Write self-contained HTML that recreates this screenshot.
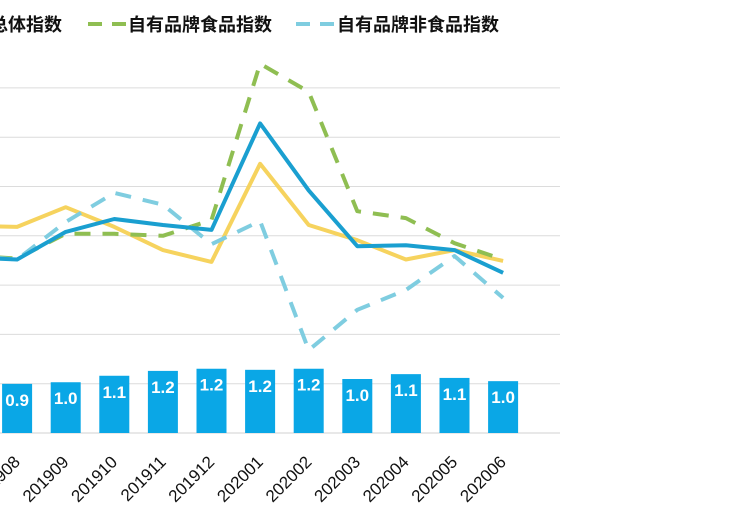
<!DOCTYPE html>
<html><head><meta charset="utf-8"><style>
html,body{margin:0;padding:0;background:#fff;width:750px;height:515px;overflow:hidden}
svg text{font-family:"Liberation Sans","Noto Sans CJK SC",sans-serif}
</style></head><body>
<svg id="chart" width="750" height="515" viewBox="0 0 750 515" xmlns="http://www.w3.org/2000/svg">
<g id="grid"></g>
<g id="bars"></g>
<g id="lines"></g>
<g id="xlabels"></g>
<g id="legend">
  <g>
    <text x="-10" y="31" font-size="18" font-weight="bold" fill="#111">总体指数</text>
  </g>
  <g>
    <line x1="88" y1="24" x2="128" y2="24" stroke="#8fbe52" stroke-width="4" stroke-dasharray="14,10"/>
    <text x="128" y="31" font-size="18" font-weight="bold" fill="#111">自有品牌食品指数</text>
  </g>
  <g>
    <line x1="296" y1="24" x2="336" y2="24" stroke="#7fcde0" stroke-width="4" stroke-dasharray="14,10"/>
    <text x="337" y="31" font-size="18" font-weight="bold" fill="#111">自有品牌非食品指数</text>
  </g>
</g>
</svg>
<script>
const categories=["201907","201908","201909","201910","201911","201912","202001","202002","202003","202004","202005","202006"];
const barValues=[null,0.91,0.94,1.06,1.15,1.19,1.17,1.19,1.00,1.09,1.02,0.96];
const barLabels=[null,"0.9","1.0","1.1","1.2","1.2","1.2","1.2","1.0","1.1","1.1","1.0"];
const totalIndex=[3.56,3.52,4.08,4.34,4.22,4.12,6.28,4.92,3.79,3.81,3.71,3.25];
const selfTotalIndex=[4.20,4.18,4.58,4.18,3.71,3.47,5.46,4.22,3.91,3.52,3.71,3.49];
const foodIndex=[3.6,3.54,4.04,4.04,4.0,4.32,7.49,6.92,4.5,4.36,3.85,3.52];
const nonFoodIndex=[3.6,3.52,4.28,4.87,4.63,3.83,4.3,1.68,2.5,2.9,3.59,2.74];
const gridTicks=[0,1,2,3,4,5,6,7];

const ns="http://www.w3.org/2000/svg";
const baseY=433, unit=49.3, x0=-31.5, step=48.6, barW=30, barUnit=54;
const xScale=i=>x0+i*step;
const yScale=v=>baseY-v*unit;
const barH=v=>v*barUnit;
function mk(tag,attrs,parent){const e=document.createElementNS(ns,tag);for(const k in attrs)e.setAttribute(k,attrs[k]);parent.appendChild(e);return e;}

const grid=document.getElementById('grid');
gridTicks.forEach(t=>{
  const l=mk('line',{x1:0,x2:560,y1:yScale(t),y2:yScale(t),stroke:t===0?'#d0d0d0':'#dcdcdc','stroke-width':1},grid);
  
  
});

const bars=document.getElementById('bars');
barValues.forEach((v,i)=>{
  if(v==null)return;
  const x=xScale(i);
  const r=mk('rect',{x:x-barW/2,y:baseY-barH(v),width:barW,height:barH(v),fill:'#0aa7e6'},bars);
  
  
  const t=mk('text',{x:x,y:baseY-barH(v)+22,'text-anchor':'middle','font-size':17,'font-weight':'bold',fill:'#fff'},bars);
  t.textContent=barLabels[i];
  
  
});

const lines=document.getElementById('lines');
function drawLine(vals,color,dash,name){
  const d=vals.map((v,i)=>(i?'L':'M')+xScale(i).toFixed(1)+','+yScale(v).toFixed(1)).join(' ');
  const p=mk('path',{d:d,fill:'none',stroke:color,'stroke-width':4,'stroke-linejoin':'round'},lines);
  if(dash)p.setAttribute('stroke-dasharray',dash);
  
  
}
drawLine(selfTotalIndex,'#f6d35e',null,'line-yellow-index');
drawLine(foodIndex,'#8fbe52','16,12','line-food-index');
drawLine(nonFoodIndex,'#7fcde0','16,12','line-nonfood-index');
drawLine(totalIndex,'#1a9fd0',null,'line-total-index');

const xl=document.getElementById('xlabels');
categories.forEach((c,i)=>{
  const x=xScale(i)+4, y=463;
  const t=mk('text',{x:x,y:y,'text-anchor':'end','font-size':17,fill:'#111',transform:`rotate(-45 ${x} ${y})`},xl);
  t.textContent=c;
  
  
});
</script>
</body></html>
